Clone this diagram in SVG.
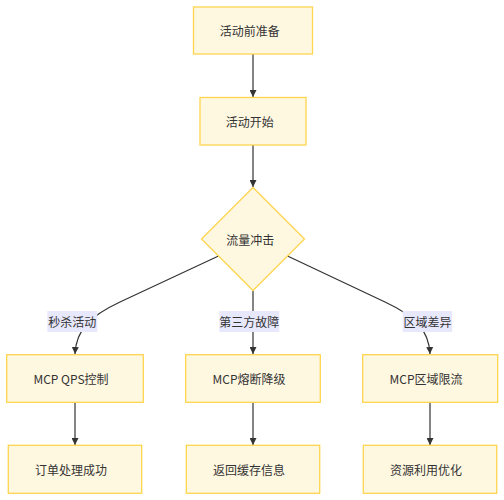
<svg xmlns="http://www.w3.org/2000/svg" width="504" height="500" viewBox="0 0 504 500">
<defs>
<style>
.node rect,.node polygon{fill:#fff8e1;stroke:#ffd54f;stroke-width:1.3}
.node text,.lbl text{font-family:"Noto Sans CJK SC","Noto Sans",sans-serif;font-size:12px;fill:#333;text-anchor:middle;dominant-baseline:central}
.edge{fill:none;stroke:#333;stroke-width:1.2}
.lbl rect{fill:#e8e8fc;stroke:none}
</style>
<marker id="arr" viewBox="0 0 10 10" refX="10" refY="5" markerWidth="7" markerHeight="7" markerUnits="userSpaceOnUse" orient="auto">
<path d="M0,0 L10,5 L0,10 z" fill="#333"/>
</marker>
</defs>
<rect width="504" height="500" fill="#ffffff"/>
<g id="connectors">
<path class="edge" d="M253,54 L253,97" marker-end="url(#arr)"/>
<path class="edge" d="M253,145 L253,187" marker-end="url(#arr)"/>
<path class="edge" d="M253,290.5 L253,354" marker-end="url(#arr)"/>
<path class="edge" d="M218.5,256 L120,302 C90,316 76,330 75,354" marker-end="url(#arr)"/>
<path class="edge" d="M287.5,256 L385,302 C415,316 429,330 430,354" marker-end="url(#arr)"/>
<path class="edge" d="M75,402.3 L75,445" marker-end="url(#arr)"/>
<path class="edge" d="M253,402.3 L253,445" marker-end="url(#arr)"/>
<path class="edge" d="M430,402.3 L430,445" marker-end="url(#arr)"/>
</g>
<g id="edge-labels">
<g class="lbl" id="label-miaosha"><rect x="47.3" y="311" width="50" height="21"/><text x="72.3" y="321.5">秒杀活动</text></g>
<g class="lbl" id="label-disanfang"><rect x="219.3" y="311" width="60" height="21"/><text x="249.3" y="321.5">第三方故障</text></g>
<g class="lbl" id="label-quyu"><rect x="402.7" y="311" width="49.5" height="21"/><text x="427.5" y="321.5">区域差异</text></g>
</g>
<g class="node" id="n-prep"><rect x="193.5" y="7" width="119" height="47"/><text x="249.7" y="30.5">活动前准备</text></g>
<g class="node" id="n-start"><rect x="200" y="97.5" width="106" height="47.5"/><text x="249.7" y="121">活动开始</text></g>
<g class="node" id="n-impact"><polygon points="253,187.5 304.5,239 253,290.5 201.5,239"/><text x="250.3" y="239">流量冲击</text></g>
<g class="node" id="n-qps"><rect x="6.7" y="354.7" width="136.6" height="47.6"/><text x="71" y="378.5">MCP QPS控制</text></g>
<g class="node" id="n-fuse"><rect x="185.7" y="354.7" width="134.6" height="47.6"/><text x="249" y="378.5">MCP熔断降级</text></g>
<g class="node" id="n-region"><rect x="362.7" y="354.7" width="135" height="47.6"/><text x="426" y="378.5">MCP区域限流</text></g>
<g class="node" id="n-order"><rect x="8.3" y="445.3" width="133.4" height="48"/><text x="71" y="469.3">订单处理成功</text></g>
<g class="node" id="n-cache"><rect x="186.3" y="445.3" width="133.4" height="48"/><text x="249" y="469.3">返回缓存信息</text></g>
<g class="node" id="n-resource"><rect x="363.3" y="445.3" width="133.4" height="48"/><text x="426" y="469.3">资源利用优化</text></g>
</svg>
